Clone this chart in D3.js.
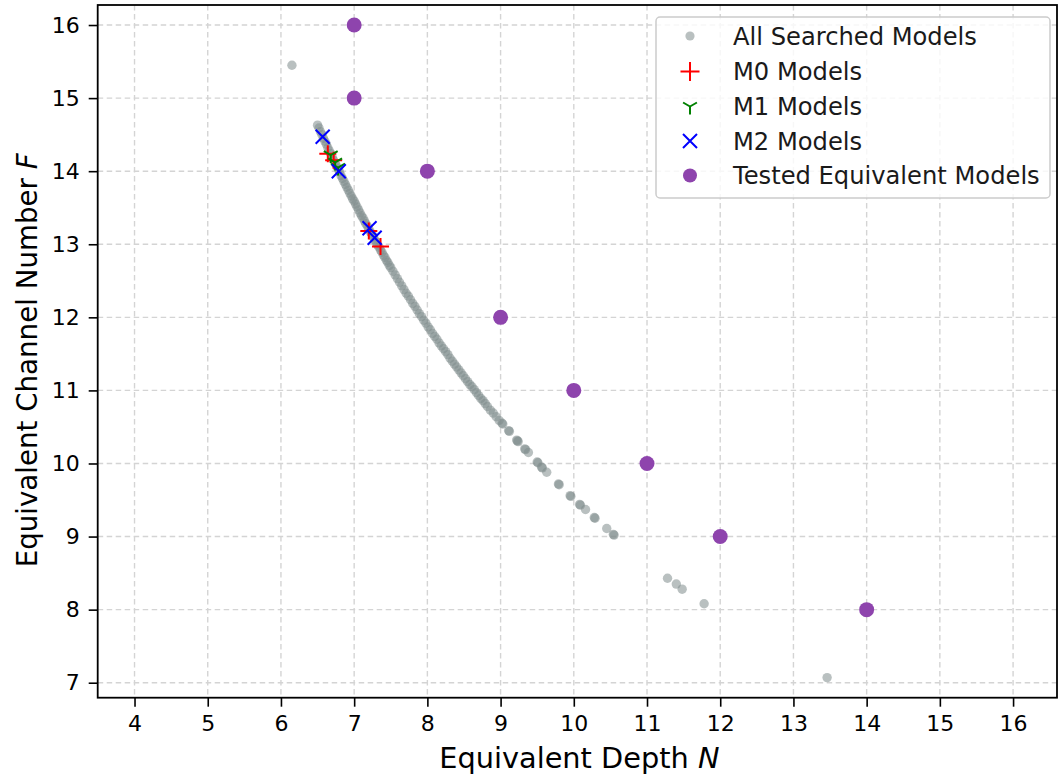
<!DOCTYPE html>
<html>
<head>
<meta charset="utf-8">
<script src="https://cdn.jsdelivr.net/npm/d3@7"></script>
<style>
  html, body { margin: 0; padding: 0; background: #fff; }
  svg { display: block; font-family: "DejaVu Sans", sans-serif; }
</style>
</head>
<body>
<svg id="chart" width="1059" height="780"></svg>
<script>
// ---- data ----
const searchedN = [6.15,
  6.50, 6.52, 6.54, 6.56, 6.58, 6.60, 6.62, 6.64, 6.66, 6.68, 6.70, 6.72, 6.74, 6.76, 6.78, 6.80,
  6.82, 6.84, 6.86, 6.88, 6.90, 6.92, 6.94, 6.96, 6.98, 7.00, 7.02, 7.04, 7.06, 7.08, 7.10, 7.12,
  7.14, 7.16, 7.18, 7.20, 7.22, 7.24, 7.26, 7.28, 7.30, 7.32, 7.34, 7.36, 7.38, 7.40, 7.42, 7.44,
  7.46, 7.48, 7.50, 7.53, 7.56, 7.59, 7.62, 7.65, 7.68, 7.71, 7.74, 7.77, 7.80, 7.83, 7.86, 7.89,
  7.92, 7.95, 7.98, 8.01, 8.04, 8.07, 8.10, 8.13, 8.16, 8.19, 8.22, 8.25, 8.28, 8.31, 8.34, 8.37,
  8.40, 8.43, 8.46, 8.49, 8.52, 8.55, 8.58, 8.61, 8.64, 8.67, 8.70, 8.73, 8.76, 8.79, 8.82, 8.86,
  8.90, 8.94, 8.98,
  9.02, 9.03, 9.11, 9.12, 9.23, 9.24, 9.22, 9.34, 9.33, 9.38, 9.50, 9.51, 9.56, 9.57, 9.63, 9.79, 9.80,
  9.95, 9.96, 10.08, 10.09, 10.16, 10.28, 10.29, 10.45, 10.54, 10.55,
  11.28, 11.40, 11.48, 11.78, 13.46];
const searchedF = [15.45,
  14.63, 14.59, 14.54, 14.50, 14.45, 14.41, 14.37, 14.32, 14.28, 14.24, 14.19, 14.15, 14.11, 14.07, 14.03, 13.99,
  13.94, 13.90, 13.86, 13.82, 13.78, 13.74, 13.70, 13.66, 13.62, 13.59, 13.55, 13.51, 13.47, 13.43, 13.39, 13.36,
  13.32, 13.28, 13.25, 13.21, 13.17, 13.14, 13.10, 13.06, 13.03, 12.99, 12.96, 12.92, 12.89, 12.85, 12.82, 12.78,
  12.75, 12.71, 12.68, 12.63, 12.58, 12.53, 12.48, 12.43, 12.38, 12.33, 12.29, 12.24, 12.19, 12.15, 12.10, 12.05,
  12.01, 11.96, 11.92, 11.87, 11.83, 11.78, 11.74, 11.70, 11.65, 11.61, 11.57, 11.53, 11.49, 11.44, 11.40, 11.36,
  11.32, 11.28, 11.24, 11.20, 11.16, 11.12, 11.08, 11.05, 11.01, 10.97, 10.93, 10.89, 10.86, 10.82, 10.78, 10.73,
  10.69, 10.64, 10.59,
  10.55, 10.54, 10.45, 10.44, 10.31, 10.30, 10.32, 10.19, 10.20, 10.15, 10.02, 10.01, 9.95, 9.94, 9.88, 9.72, 9.71,
  9.56, 9.55, 9.44, 9.43, 9.37, 9.26, 9.25, 9.11, 9.03, 9.02,
  8.43, 8.35, 8.28, 8.08, 7.07];

const m0N = [6.64, 6.72, 7.20, 7.36];
const m0F = [14.24, 14.15, 13.18, 12.97];
const m1N = [6.68, 6.74, 6.78];
const m1F = [14.22, 14.12, 14.05];
const m2N = [6.57, 6.79, 7.21, 7.28];
const m2F = [14.47, 14.00, 13.22, 13.09];

const testedN = [7, 7, 8, 9, 10, 11, 12, 14];
const testedF = [16, 15, 14, 12, 11, 10, 9, 8];

const xTicks = [4, 5, 6, 7, 8, 9, 10, 11, 12, 13, 14, 15, 16];
const yTicks = [7, 8, 9, 10, 11, 12, 13, 14, 15, 16];

const legendLabels = ["All Searched Models", "M0 Models", "M1 Models", "M2 Models", "Tested Equivalent Models"];

// ---- layout ----
const pL = 97.7, pR = 1057, pT = 5, pB = 697.7;
const svg = d3.select("#chart");

const x = d3.scaleLinear().domain([3.497, 16.6]).range([pL, pR]);
const y = d3.scaleLinear().domain([6.795, 16.274]).range([pB, pT]);

// grid
const grid = svg.append("g");
grid.selectAll("line.gx").data(xTicks).join("line")
  .attr("x1", d => x(d)).attr("x2", d => x(d)).attr("y1", pT).attr("y2", pB)
  .attr("stroke", "#d4d4d4").attr("stroke-width", 1.4).attr("stroke-dasharray", "5.5,3.5");
grid.selectAll("line.gy").data(yTicks).join("line")
  .attr("y1", d => y(d)).attr("y2", d => y(d)).attr("x1", pL).attr("x2", pR)
  .attr("stroke", "#d4d4d4").attr("stroke-width", 1.4).attr("stroke-dasharray", "5.5,3.5");

// marker paths
function plusPath(cx, cy, s) {
  return `M${cx - s},${cy}L${cx + s},${cy}M${cx},${cy - s}L${cx},${cy + s}`;
}
function xPath(cx, cy, s) {
  return `M${cx - s},${cy - s}L${cx + s},${cy + s}M${cx - s},${cy + s}L${cx + s},${cy - s}`;
}
function triDownPath(cx, cy, s) {
  const a = s * Math.cos(Math.PI / 6), b = s * 0.5;
  return `M${cx},${cy}L${cx},${cy + s}M${cx},${cy}L${cx - a},${cy - b}M${cx},${cy}L${cx + a},${cy - b}`;
}

const plot = svg.append("g");

// all searched
plot.selectAll("circle.s").data(searchedN.map((n, i) => [n, searchedF[i]])).join("circle")
  .attr("cx", d => x(d[0])).attr("cy", d => y(d[1])).attr("r", 4.7)
  .attr("fill", "#7f8c8d").attr("fill-opacity", 0.55);

// M0
plot.selectAll("path.m0").data(m0N.map((n, i) => [n, m0F[i]])).join("path")
  .attr("d", d => plusPath(x(d[0]), y(d[1]), 8.5))
  .attr("stroke", "#ff0000").attr("stroke-width", 2).attr("fill", "none");
// M1
plot.selectAll("path.m1").data(m1N.map((n, i) => [n, m1F[i]])).join("path")
  .attr("d", d => triDownPath(x(d[0]), y(d[1]), 8))
  .attr("stroke", "#008000").attr("stroke-width", 2).attr("fill", "none");
// M2
plot.selectAll("path.m2").data(m2N.map((n, i) => [n, m2F[i]])).join("path")
  .attr("d", d => xPath(x(d[0]), y(d[1]), 7))
  .attr("stroke", "#0000ff").attr("stroke-width", 2).attr("fill", "none");
// tested
plot.selectAll("circle.t").data(testedN.map((n, i) => [n, testedF[i]])).join("circle")
  .attr("cx", d => x(d[0])).attr("cy", d => y(d[1])).attr("r", 7.5)
  .attr("fill", "#8e44ad");

// axes
const xAxis = svg.append("g").attr("transform", `translate(0,${pB})`)
  .call(d3.axisBottom(x).tickValues(xTicks).tickSize(9).tickPadding(9).tickFormat(d3.format("d")));
const yAxis = svg.append("g").attr("transform", `translate(${pL},0)`)
  .call(d3.axisLeft(y).tickValues(yTicks).tickSize(9).tickPadding(9).tickFormat(d3.format("d")));
[xAxis, yAxis].forEach(g => {
  g.select(".domain").remove();
  g.selectAll(".tick line").attr("stroke", "#000").attr("stroke-width", 1.6);
  g.selectAll(".tick text").attr("fill", "#000").style("font-size", "22px").style("font-family", "DejaVu Sans");
});

// spines
svg.append("rect").attr("x", pL).attr("y", pT).attr("width", pR - pL).attr("height", pB - pT)
  .attr("fill", "none").attr("stroke", "#000").attr("stroke-width", 1.8);

// axis titles
const xt = svg.append("text").attr("x", (pL + pR) / 2 + 2).attr("y", 768).attr("text-anchor", "middle")
  .style("font-size", "28.8px").attr("fill", "#000");
xt.append("tspan").text("Equivalent Depth ");
xt.append("tspan").style("font-style", "italic").text("N");

const yt = svg.append("text").attr("transform", `translate(37,${(pT + pB) / 2 + 9}) rotate(-90)`)
  .attr("text-anchor", "middle").style("font-size", "27.7px").attr("fill", "#000");
yt.append("tspan").text("Equivalent Channel Number ");
yt.append("tspan").style("font-style", "italic").text("F");

// legend
const lg = svg.append("g");
lg.append("rect").attr("x", 656).attr("y", 17).attr("width", 394).attr("height", 181).attr("rx", 4)
  .attr("fill", "#fff").attr("fill-opacity", 0.8).attr("stroke", "#cccccc").attr("stroke-width", 1.5);
const rowY = [36, 71.5, 106.5, 141, 175.5];
const mx = 690;
lg.append("circle").attr("cx", mx).attr("cy", rowY[0]).attr("r", 4.6).attr("fill", "#7f8c8d").attr("fill-opacity", 0.55);
lg.append("path").attr("d", plusPath(mx, rowY[1], 9.5)).attr("stroke", "#ff0000").attr("stroke-width", 2).attr("fill", "none");
lg.append("path").attr("d", triDownPath(mx, rowY[2], 8)).attr("stroke", "#008000").attr("stroke-width", 2).attr("fill", "none");
lg.append("path").attr("d", xPath(mx, rowY[3], 7)).attr("stroke", "#0000ff").attr("stroke-width", 2).attr("fill", "none");
lg.append("circle").attr("cx", mx).attr("cy", rowY[4]).attr("r", 7).attr("fill", "#8e44ad");
lg.selectAll("text").data(legendLabels).join("text")
  .attr("x", 733).attr("y", (d, i) => rowY[i]).attr("dy", "0.36em")
  .style("font-size", "24.2px").attr("fill", "#1a1a1a").text(d => d);
</script>
</body>
</html>
